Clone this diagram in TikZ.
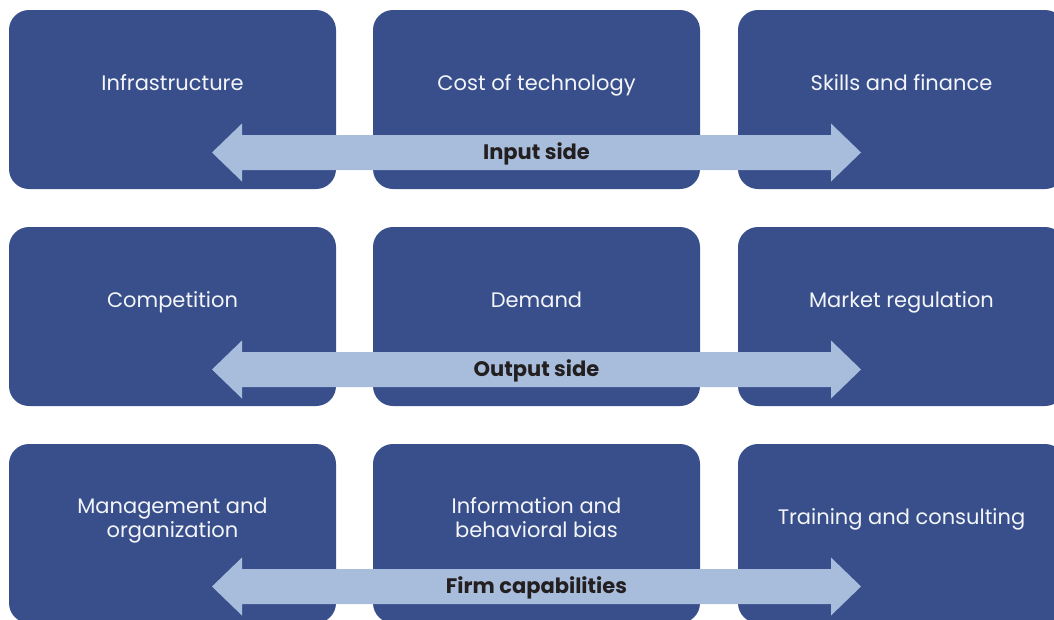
\documentclass[tikz,border=0pt]{standalone}
\usepackage{fontspec}
\setmainfont{Poppins}
\usepackage{tikz}
\usetikzlibrary{calc}
\definecolor{cellblue}{HTML}{384F8B}
\definecolor{bandblue}{HTML}{A8BDDC}
\definecolor{labelink}{HTML}{231F20}
\tikzset{
  cell/.style={
    rectangle, rounded corners=20pt, fill=cellblue,
    minimum width=327pt, minimum height=179pt, inner sep=0pt
  },
  celltext/.style={
    align=center, text=white!94!cellblue, font=\fontsize{21}{24}\selectfont,
    text height=15pt, text depth=5pt, inner sep=0pt
  },
  bandarrow/.style={fill=bandblue},
  bandlabel/.style={
    font=\bfseries\fontsize{21}{24}\selectfont, text=labelink,
    text height=15pt, text depth=5pt, inner sep=0pt, yshift=-2pt
  },
}

\begin{document}
\begin{tikzpicture}[x=1pt, y=-1pt]
  \useasboundingbox (0,0) rectangle (1054,619);

  % Input side
  \node[cell] (infra) at (172.5,99.5) {};
  \node[cell] (cost) at (536.5,99.5) {};
  \node[cell] (skills) at (901.5,99.5) {};

  % Output side
  \node[cell] (compet) at (172.5,316.5) {};
  \node[cell] (demand) at (536.5,316.5) {};
  \node[cell] (regul) at (901.5,316.5) {};

  % Firm capabilities
  \node[cell] (manage) at (172.5,533.5) {};
  \node[cell] (inform) at (536.5,533.5) {};
  \node[cell] (train) at (901.5,533.5) {};

  % Cell texts
  \node[celltext] at ([yshift=14pt]infra.center) {Infrastructure};
  \node[celltext] at ([yshift=14pt]cost.center) {Cost of technology};
  \node[celltext] at ([yshift=14pt]skills.center) {Skills and finance};
  \node[celltext] at ([yshift=14pt]compet.center) {Competition};
  \node[celltext] at ([yshift=14pt]demand.center) {Demand};
  \node[celltext] at ([yshift=14pt]regul.center) {Market regulation};
  \node[celltext] at ([yshift=1pt]manage.center) {Management and\\organization};
  \node[celltext] at ([yshift=1pt]inform.center) {Information and\\behavioral bias};
  \node[celltext] at ([yshift=14pt]train.center) {Training and consulting};

  % Double arrows
  \coordinate (inmid) at ($(cost.center)+(0,53)$);
  \coordinate (outmid) at ($(demand.center)+(0,53)$);
  \coordinate (firmmid) at ($(inform.center)+(0,53)$);
  \fill[bandarrow] ($(inmid)+(-324.5,0)$) -- ++(30,-29) -- ++(0,11.5) -- ++(589,0) -- ++(0,-11.5) -- ++(30,29)
    -- ++(-30,29) -- ++(0,-11.5) -- ++(-589,0) -- ++(0,11.5) -- cycle;
  \fill[bandarrow] ($(outmid)+(-324.5,0)$) -- ++(30,-29) -- ++(0,11.5) -- ++(589,0) -- ++(0,-11.5) -- ++(30,29)
    -- ++(-30,29) -- ++(0,-11.5) -- ++(-589,0) -- ++(0,11.5) -- cycle;
  \fill[bandarrow] ($(firmmid)+(-324.5,0)$) -- ++(30,-29) -- ++(0,11.5) -- ++(589,0) -- ++(0,-11.5) -- ++(30,29)
    -- ++(-30,29) -- ++(0,-11.5) -- ++(-589,0) -- ++(0,11.5) -- cycle;

  \node[bandlabel] (inlbl) at (inmid) {Input side};
  \node[bandlabel] (outlbl) at (outmid) {Output side};
  \node[bandlabel] (firmlbl) at (firmmid) {Firm capabilities};
\end{tikzpicture}
\end{document}
